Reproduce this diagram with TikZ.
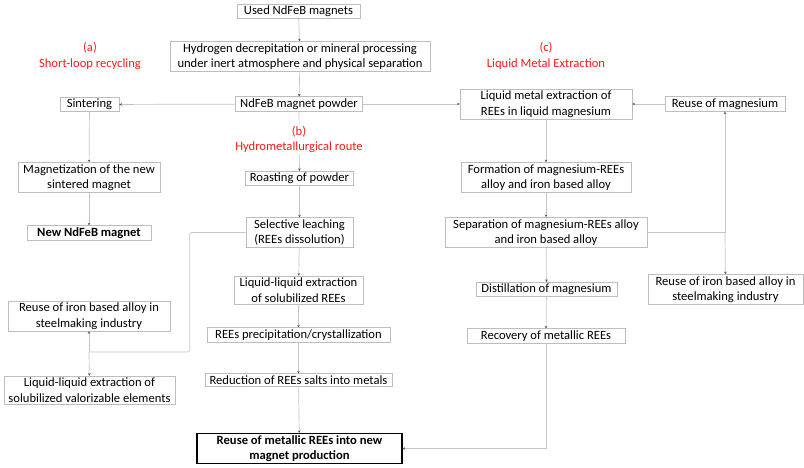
\documentclass[tikz,border=0pt]{standalone}
\usepackage{fontspec}
\setmainfont{Carlito}
\usetikzlibrary{arrows.meta}
\definecolor{boxgray}{HTML}{BDBDBD}
\definecolor{wiregray}{HTML}{C4C4C4}
\definecolor{routered}{HTML}{FF1A1A}

\begin{document}
\begin{tikzpicture}[
        % Environment Config
        x=1pt, y=-1pt,
        font=\fontsize{12.6}{15.5}\selectfont,
        StepBox/.style={% Style for the process boxes
          draw=boxgray,
          line width=0.7pt,
          align=center,
          fill=white,
          inner xsep=4.5pt,
          inner ysep=1.8pt
        },
        EndBox/.style={% Style for the final products
          StepBox,
          font=\fontsize{12.6}{15.5}\selectfont\bfseries
        },
        RouteLabel/.style={% Style for the red route titles
          routered,
          fill=white,
          align=center,
          inner sep=1pt
        },
        Wire/.style={% Style for plain lines
          wiregray,
          line width=0.7pt
        },
        MyArrow/.style={% Style for the arrows
          Wire,
          -{Stealth[length=2.5pt,width=2.5pt,black!70]}
        }
      ]

      \useasboundingbox (0,0) rectangle (804,467);

      % Main trunk
      \node[StepBox, minimum width=123] (used) at (298.5,11.5) {Used NdFeB magnets};
      \node[StepBox, minimum width=260] (hydro) at (300,56.5) {Hydrogen decrepitation or mineral processing\\under inert atmosphere and physical separation};
      \node[StepBox, minimum width=126] (powder) at (299,104) {NdFeB magnet powder};

      % (a) Short-loop recycling
      \node[StepBox, minimum width=59] (sinter) at (89.5,104.5) {Sintering};
      \node[StepBox, minimum width=142] (magnet) at (89,177.5) {Magnetization of the new\\sintered magnet};
      \node[EndBox, minimum width=124] (newmag) at (89,233) {New NdFeB magnet};

      % (b) Hydrometallurgical route
      \node[StepBox, minimum width=107] (roast) at (299.5,178.5) {Roasting of powder};
      \node[StepBox, minimum width=107] (leach) at (299.5,232.5) {Selective leaching\\(REEs dissolution)};
      \node[StepBox, minimum width=129] (llREE) at (298.5,290) {Liquid-liquid extraction\\of solubilized REEs};
      \node[StepBox, minimum width=183] (precip) at (298.5,335) {REEs precipitation/crystallization};
      \node[StepBox, minimum width=181] (reduc) at (298.5,380) {Reduction of REEs salts into metals};
      \node[StepBox, minimum width=162] (ironL) at (89,316) {Reuse of iron based alloy in\\steelmaking industry};
      \node[StepBox, minimum width=171] (llval) at (89.5,390) {Liquid-liquid extraction of\\solubilized valorizable elements};
      \node[EndBox, draw=black, line width=1.1pt, minimum width=205] (final) at (299.5,448.5) {Reuse of metallic REEs into new\\magnet production};

      % (c) Liquid metal extraction
      \node[StepBox, minimum width=172] (lme) at (546,104) {Liquid metal extraction of\\REEs in liquid magnesium};
      \node[StepBox, minimum width=120] (reusemg) at (725,104) {Reuse of magnesium};
      \node[StepBox, minimum width=170] (form) at (546,177.5) {Formation of magnesium-REEs\\alloy and iron based alloy};
      \node[StepBox, minimum width=202] (separ) at (546,232.5) {Separation of magnesium-REEs alloy\\and iron based alloy};
      \node[StepBox, minimum width=141] (distil) at (546.5,289.5) {Distillation of magnesium};
      \node[StepBox, minimum width=155] (ironR) at (725.5,289.5) {Reuse of iron based alloy in\\steelmaking industry};
      \node[StepBox, minimum width=158] (recov) at (546,336) {Recovery of metallic REEs};

      % Draw the arrows
      \draw[MyArrow] (used) -- (hydro);
      \draw[MyArrow] (hydro) -- (powder);
      \draw[MyArrow] (powder) -- (sinter);
      \draw[MyArrow] (powder) -- (lme);
      \draw[MyArrow] (powder) -- (roast);
      \draw[MyArrow] (sinter) -- (magnet);
      \draw[MyArrow] (magnet) -- (newmag);
      \draw[MyArrow] (roast) -- (leach);
      \draw[MyArrow] (leach) -- (llREE);
      \draw[MyArrow] (llREE) -- (precip);
      \draw[MyArrow] (precip) -- (reduc);
      \draw[MyArrow] (reduc) -- (final);
      \draw[MyArrow] (lme) -- (form);
      \draw[MyArrow] (form) -- (separ);
      \draw[MyArrow] (separ) -- (distil);
      \draw[MyArrow] (distil) -- (recov);
      \draw[MyArrow] (recov) |- (final.east);
      \draw[MyArrow] (reusemg) -- (lme);

      %===Leaching residue===
      \coordinate (ironsplit) at (89,352);
      \draw[Wire, rounded corners=2pt]
      (leach.west)
          -- ++(-56,0)
          |- (ironsplit);
      \draw[MyArrow] (ironsplit) -- (ironL);
      \draw[MyArrow] (ironsplit) -- (llval);

      %===Separation products===
      \coordinate (sepsplit) at (reusemg |- separ.east);
      \draw[Wire] (separ.east) -- (sepsplit);
      \draw[MyArrow] (sepsplit) -- (reusemg);
      \draw[MyArrow] (sepsplit) -- (ironR);

      % Route titles
      \node[RouteLabel] (routeA) at (90,56) {(a)\\Short-loop recycling};
      \node[RouteLabel] (routeB) at (299,139.5) {(b)\\Hydrometallurgical route};
      \node[RouteLabel] (routeC) at (546,56) {(c)\\Liquid Metal Extraction};

      \end{tikzpicture}
\end{document}
